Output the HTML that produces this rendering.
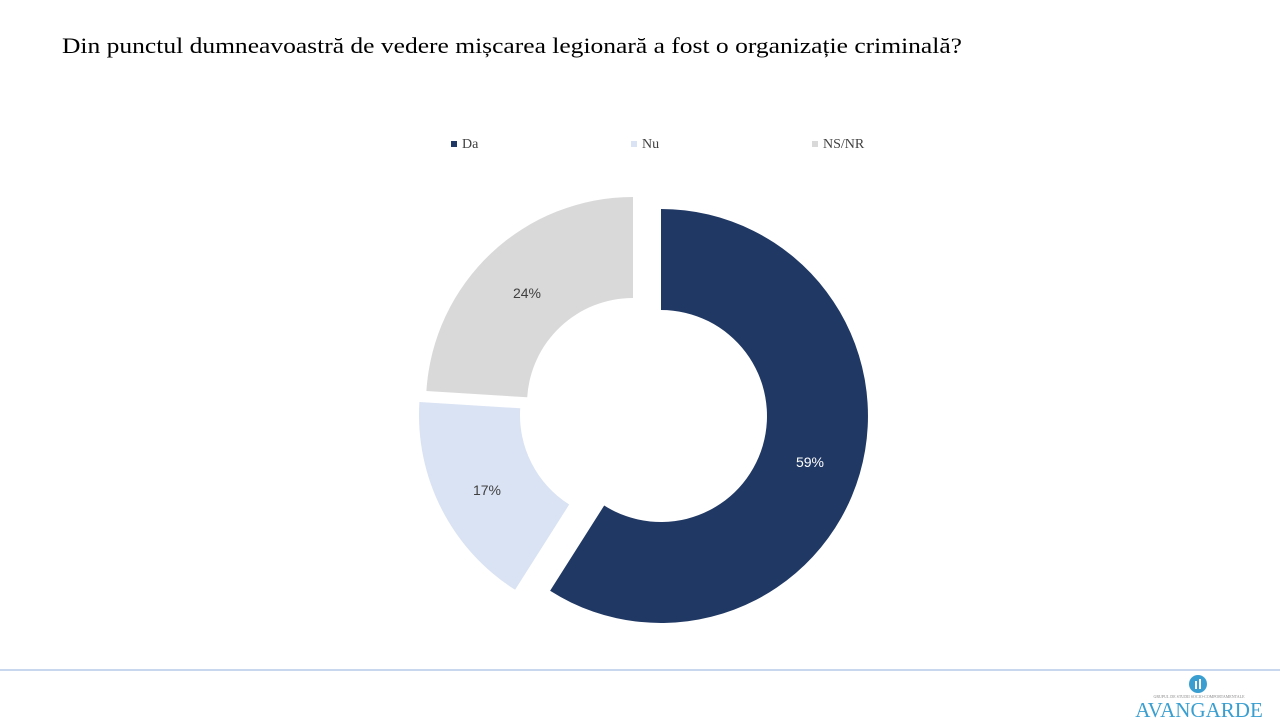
<!DOCTYPE html>
<html><head><meta charset="utf-8"><style>
html,body{margin:0;padding:0;background:#fff;width:1280px;height:720px;overflow:hidden}
</style></head><body>
<svg width="1280" height="720" xmlns="http://www.w3.org/2000/svg">
<rect width="1280" height="720" fill="#fff"/>
<text x="62" y="53" font-family="Liberation Serif, serif" font-size="22" fill="#000" textLength="900" lengthAdjust="spacingAndGlyphs">Din punctul dumneavoastră de vedere mișcarea legionară a fost o organizație criminală?</text>
<g font-family="Liberation Serif, serif" font-size="14" fill="#404040">
<rect x="451" y="141" width="6" height="6" fill="#203864"/><text x="462" y="148">Da</text>
<rect x="631" y="141" width="6" height="6" fill="#dae3f3"/><text x="642" y="148">Nu</text>
<rect x="812" y="141" width="6" height="6" fill="#d9d9d9"/><text x="823" y="148">NS/NR</text>
</g>
<path d="M661,209 A207,207 0 1 1 550.1,590.8 L604.2,505.5 A106,106 0 1 0 661,310 Z" fill="#203864"/>
<path d="M515.1,589.8 A207,207 0 0 1 419.4,402 L520.2,408.3 A106,106 0 0 0 569.2,504.5 Z" fill="#dae3f3"/>
<path d="M426.4,391 A207,207 0 0 1 633,197 L633,298 A106,106 0 0 0 527.2,397.3 Z" fill="#d9d9d9"/>
<g font-family="Liberation Sans, sans-serif" font-size="14" text-anchor="middle">
<text x="810" y="467" fill="#fff">59%</text>
<text x="487" y="495" fill="#404040">17%</text>
<text x="527" y="298" fill="#404040">24%</text>
</g>
<line x1="0" y1="670" x2="1280" y2="670" stroke="#c9d7ee" stroke-width="2"/>
<circle cx="1198" cy="684" r="9" fill="#3a9fd0"/>
<rect x="1195" y="681" width="2" height="8" fill="#fff"/><rect x="1199" y="679" width="2" height="10" fill="#fff"/>
<text x="1199" y="698" font-family="Liberation Serif, serif" font-size="4" fill="#888" text-anchor="middle">GRUPUL DE STUDII SOCIO-COMPORTAMENTALE</text>
<text x="1199" y="717" font-family="Liberation Serif, serif" font-size="21" fill="#3a9fd0" text-anchor="middle">AVANGARDE</text>
</svg>
</body></html>
